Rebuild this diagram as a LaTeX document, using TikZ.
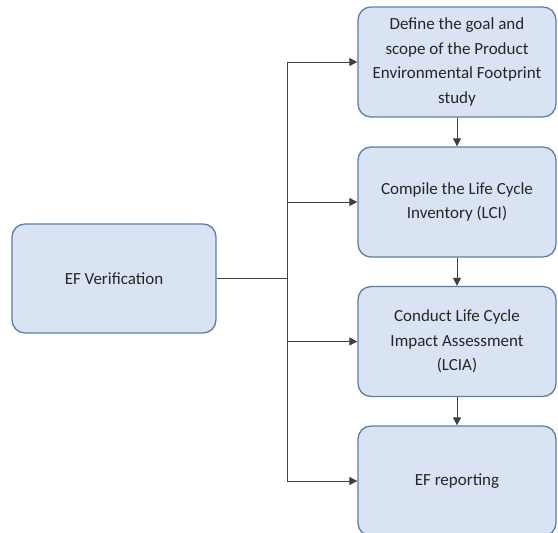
\documentclass[tikz,border=0pt]{standalone}
\usepackage{fontspec}
\setmainfont{Carlito}
\usetikzlibrary{arrows.meta}
\definecolor{boxfill}{HTML}{DAE3F3}
\definecolor{boxdraw}{HTML}{5B7FA8}
\definecolor{linec}{HTML}{404040}
\begin{document}
\begin{tikzpicture}[x=1pt,y=-1pt,
  box/.style={draw=boxdraw, line width=1.3pt, fill=boxfill, rounded corners=13pt,
    minimum width=198pt, minimum height=110pt, align=center, inner sep=2pt,
    font=\fontsize{17}{24.5}\selectfont, text=black!85},
  conn/.style={draw=linec, line width=1pt},
  arr/.style={conn, -{Triangle[length=8pt,width=8pt]}}]
\useasboundingbox (0,0) rectangle (558,533);
\node[box, minimum width=204pt, minimum height=109pt] (L) at (114,278.5) {EF Verification};
\node[box] (b1) at (457,62) {Define the goal and\\scope of the Product\\Environmental Footprint\\study};
\node[box] (b2) at (457,202) {Compile the Life Cycle\\Inventory (LCI)};
\node[box] (b3) at (457,341.5) {Conduct Life Cycle\\Impact Assessment\\(LCIA)};
\node[box] (b4) at (457,481) {EF reporting};
\coordinate (j) at (287,278.5);
\draw[conn] (L.east) -- (j);
\draw[arr] (j) |- (b1.west);
\draw[arr] (j) |- (b2.west);
\draw[arr] (j) |- (b3.west);
\draw[arr] (j) |- (b4.west);
\draw[arr] (b1) -- (b2);
\draw[arr] (b2) -- (b3);
\draw[arr] (b3) -- (b4);
\end{tikzpicture}
\end{document}
